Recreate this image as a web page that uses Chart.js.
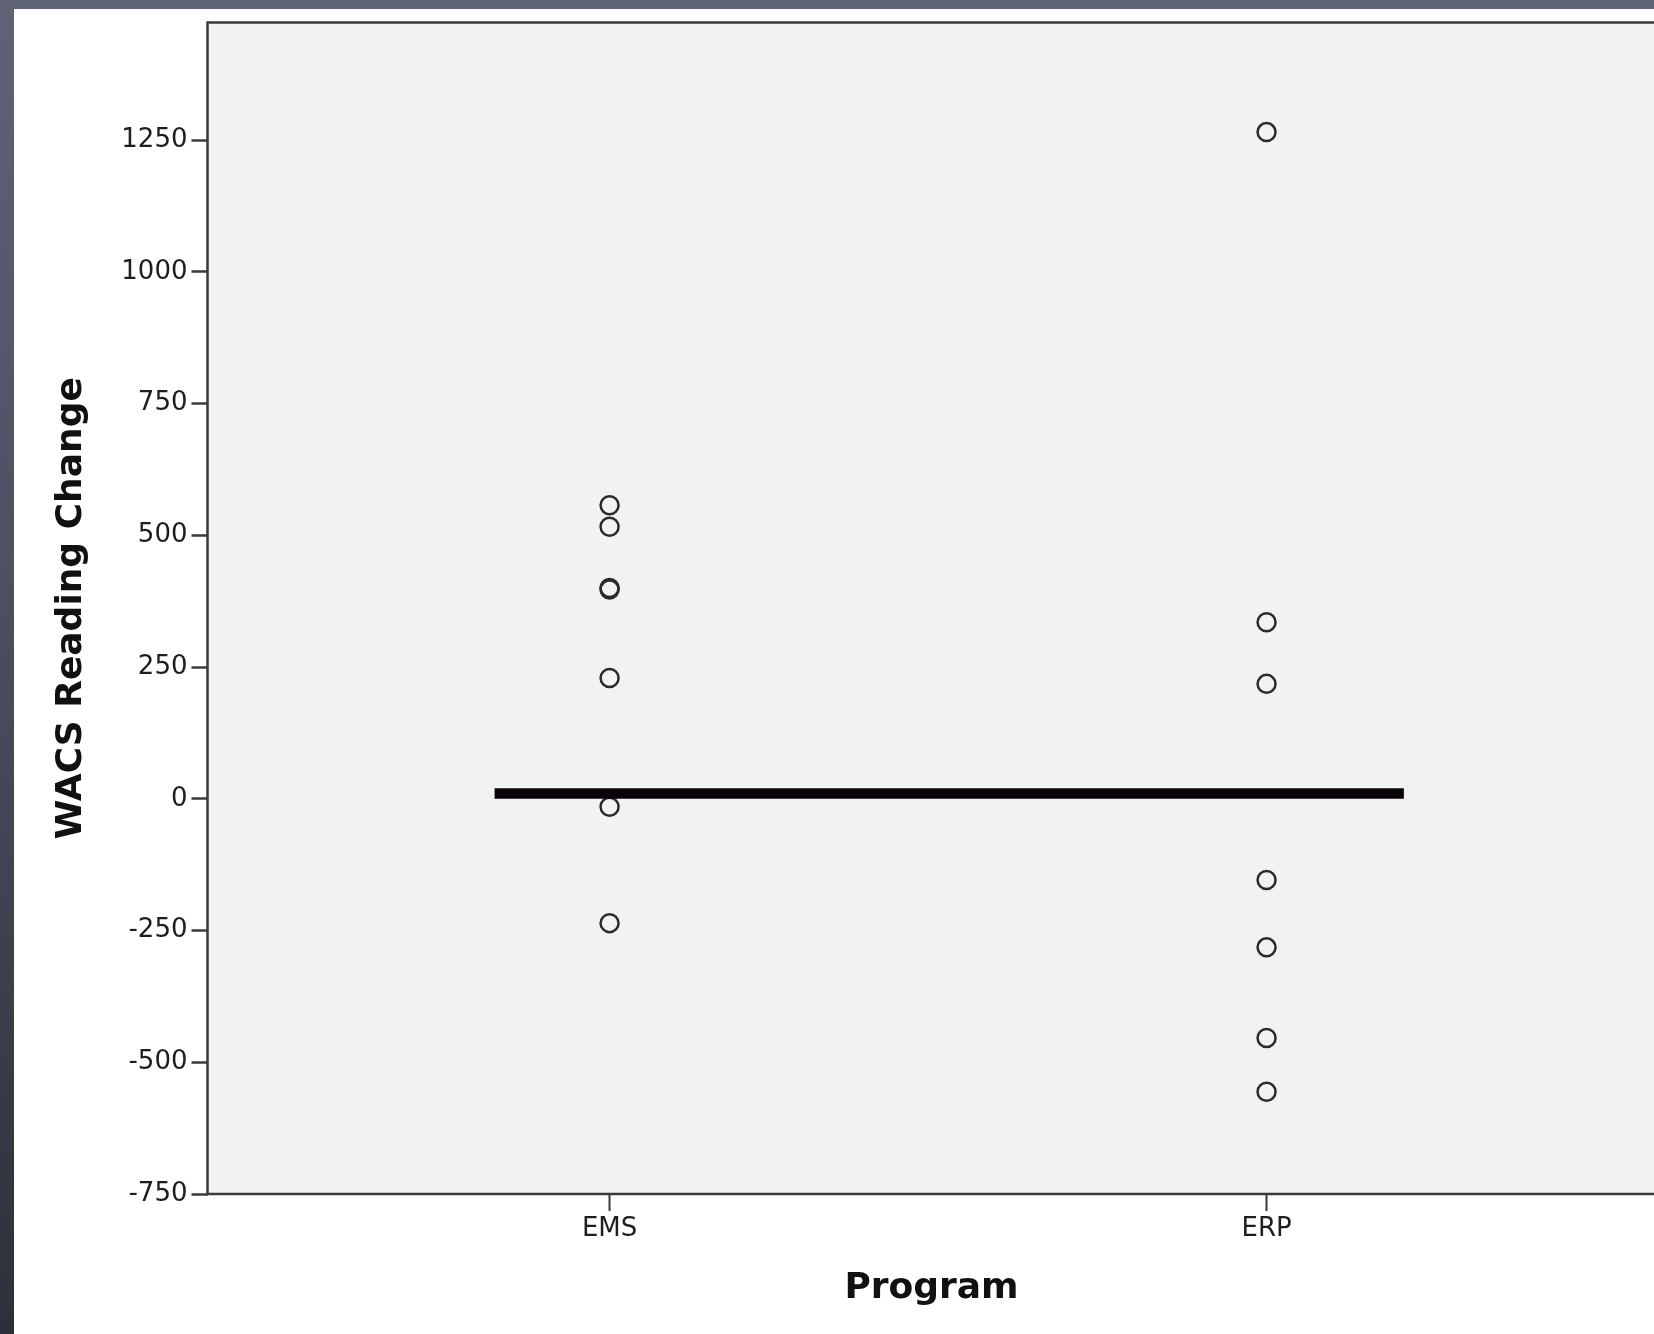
<!DOCTYPE html>
<html>
<head>
<meta charset="utf-8">
<script src="https://cdn.jsdelivr.net/npm/chart.js@4/dist/chart.umd.min.js"></script>
<style>
  html, body {
    margin: 0;
    padding: 0;
    width: 1654px;
    height: 1334px;
    overflow: hidden;
    background: linear-gradient(to bottom, #5e6476 0%, #4a5060 45%, #2c303a 100%);
  }
  #panel {
    position: absolute;
    left: 14px;
    top: 9px;
    width: 1653px;
    height: 1325px;
    background: #ffffff;
  }
  #c { display: block; }
</style>
</head>
<body>
<div id="panel"><canvas id="c" width="1653" height="1325"></canvas></div>
<script>
// Program groups and the change in WACS reading score per student
const programs = ['EMS', 'ERP'];
const emsChange = [557, 516, 400, 397, 229, -15, -236];
const erpChange = [1265, 335, 218, -154, -282, -454, -556];

// Y axis ticks
const yTickValues = [-750, -500, -250, 0, 250, 500, 750, 1000, 1250];

// Horizontal reference line (level and the x extent it spans)
const referenceLevel = 10;
const referenceSpan = [-0.175, 1.209];

const pointsFor = (groupIndex, values) => values.map(v => ({ x: groupIndex, y: v }));

const plotFrame = {
  id: 'plotFrame',
  beforeDraw(chart) {
    const { ctx, chartArea: a } = chart;
    ctx.save();
    ctx.fillStyle = '#f2f2f2';
    ctx.fillRect(a.left, a.top, a.right - a.left, a.bottom - a.top);
    ctx.restore();
  },
  afterDraw(chart) {
    const { ctx, chartArea: a } = chart;
    ctx.save();
    ctx.strokeStyle = '#3a3a3a';
    ctx.lineWidth = 2.5;
    ctx.strokeRect(a.left, a.top, a.right - a.left + 20, a.bottom - a.top);
    ctx.restore();
  }
};

// keep tick labels from pushing the plot area inward
const noEdgePadding = scale => {
  scale.paddingTop = 0;
  scale.paddingBottom = 0;
  scale.paddingLeft = 0;
  scale.paddingRight = 0;
};

const tickFont = { family: 'DejaVu Sans', size: 26 };
const titleFont = { family: 'DejaVu Sans', size: 36, weight: 'bold' };

const pointStyleOpts = {
  pointStyle: 'circle',
  pointRadius: 9,
  pointBorderWidth: 2.5,
  borderColor: '#2a2a2a',
  backgroundColor: 'rgba(0,0,0,0)',
  order: 1
};

new Chart(document.getElementById('c'), {
  type: 'scatter',
  data: {
    datasets: [
      Object.assign({ label: programs[0], data: pointsFor(0, emsChange) }, pointStyleOpts),
      Object.assign({ label: programs[1], data: pointsFor(1, erpChange) }, pointStyleOpts),
      {
        type: 'line',
        label: 'reference',
        data: referenceSpan.map(x => ({ x, y: referenceLevel })),
        borderColor: '#0a0309',
        borderWidth: 10.5,
        borderCapStyle: 'butt',
        pointRadius: 0,
        fill: false,
        order: 0
      }
    ]
  },
  options: {
    responsive: false,
    animation: false,
    devicePixelRatio: 1,
    layout: { padding: { top: 13.5, left: 0, right: 0, bottom: 0 } },
    plugins: {
      legend: { display: false },
      tooltip: { enabled: false }
    },
    scales: {
      x: {
        type: 'linear',
        min: -0.612,
        max: 1.592,
        afterBuildTicks(scale) {
          scale.ticks = programs.map((_, i) => ({ value: i }));
        },
        afterFit(scale) { scale.height = 140; noEdgePadding(scale); },
        ticks: {
          callback: v => programs[v],
          font: tickFont,
          color: '#1e1e1e',
          padding: 3,
          maxRotation: 0,
          autoSkip: false
        },
        grid: {
          drawOnChartArea: false,
          drawTicks: true,
          tickLength: 17,
          tickWidth: 2,
          tickColor: '#3a3a3a'
        },
        border: { display: false },
        title: {
          display: true,
          text: 'Program',
          font: titleFont,
          color: '#111111',
          padding: { top: 0, bottom: 24 }
        }
      },
      y: {
        type: 'linear',
        min: -750,
        max: 1473,
        afterBuildTicks(scale) {
          scale.ticks = yTickValues.map(v => ({ value: v }));
        },
        afterFit(scale) { scale.width = 193.5; noEdgePadding(scale); },
        ticks: {
          callback: v => String(v),
          font: tickFont,
          color: '#1e1e1e',
          padding: 4,
          autoSkip: false
        },
        grid: {
          drawOnChartArea: false,
          drawTicks: true,
          tickLength: 16,
          tickWidth: 2.5,
          tickColor: '#3a3a3a'
        },
        border: { display: false },
        title: {
          display: true,
          text: 'WACS Reading Change',
          font: titleFont,
          color: '#111111',
          padding: { top: 36, bottom: 0 }
        }
      }
    }
  },
  plugins: [plotFrame]
});
</script>
</body>
</html>
